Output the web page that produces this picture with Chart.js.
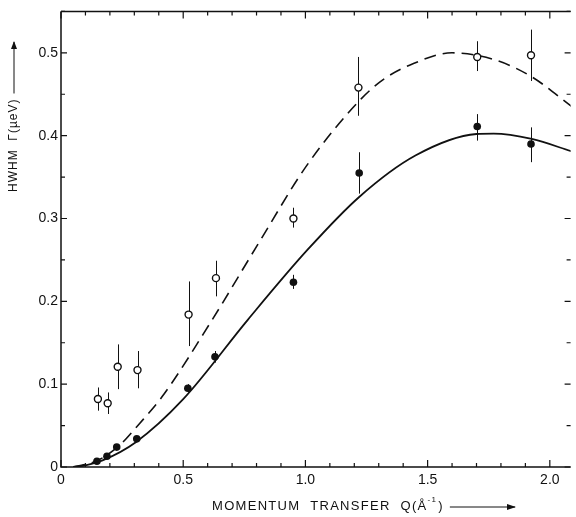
<!DOCTYPE html>
<html lang="en">

<head>
    <meta charset="UTF-8" />
    <title>HWHM vs momentum transfer</title>
    <script src="https://cdn.jsdelivr.net/npm/chart.js"></script>
    <style>
        body { margin: 0; background: #fff; }
    </style>
</head>

<body>
    <canvas id="hwhmChart" width="576" height="517"></canvas>

    <script>
        // open circles (upper data set) with error bars
        const openQ = [0.151, 0.191, 0.232, 0.313, 0.522, 0.634, 0.951, 1.217, 1.703, 1.923];
        const openG = [0.082, 0.077, 0.121, 0.117, 0.184, 0.228, 0.300, 0.458, 0.495, 0.497];
        const openLo = [0.068, 0.064, 0.094, 0.095, 0.146, 0.206, 0.289, 0.424, 0.478, 0.466];
        const openHi = [0.096, 0.090, 0.148, 0.140, 0.224, 0.249, 0.313, 0.495, 0.514, 0.528];

        // filled circles (lower data set)
        const fillQ = [0.147, 0.188, 0.228, 0.310, 0.519, 0.630, 0.951, 1.220, 1.703, 1.923];
        const fillG = [0.007, 0.013, 0.024, 0.034, 0.095, 0.133, 0.223, 0.355, 0.411, 0.390];
        const fillLo = [null, null, null, null, 0.090, 0.126, 0.215, 0.330, 0.394, 0.368];
        const fillHi = [null, null, null, null, 0.100, 0.140, 0.232, 0.380, 0.426, 0.410];

        // model curves
        const solidQ = [0.05, 0.10, 0.17, 0.306, 0.50, 0.765, 1.008, 1.22, 1.45, 1.70, 1.77, 1.926, 2.09];
        const solidG = [0, 0.002, 0.008, 0.030, 0.082, 0.178, 0.262, 0.326, 0.376, 0.402, 0.4025, 0.396, 0.381];
        const dashQ = [0.05, 0.15, 0.239, 0.32, 0.414, 0.617, 0.806, 1.008, 1.23, 1.325, 1.426, 1.60, 1.78, 1.926, 2.09];
        const dashG = [0, 0.008, 0.026, 0.052, 0.085, 0.177, 0.269, 0.365, 0.445, 0.469, 0.485, 0.500, 0.491, 0.471, 0.435];

        const xTickLabels = ['0', '0.5', '1.0', '1.5', '2.0'];
        const yTickLabels = ['0', '0.1', '0.2', '0.3', '0.4', '0.5'];

        const xy = (xs, ys) => xs.map((x, i) => ({ x: x, y: ys[i] }));

        const ink = '#111';
        const fontFam = '"Liberation Sans", Arial, sans-serif';

        const frame = {
            id: 'frame',
            beforeDatasetsDraw(chart) {
                const c = chart.ctx, xs = chart.scales.x, ys = chart.scales.y;
                c.save();
                c.strokeStyle = ink;
                c.lineWidth = 1;
                function bars(qs, lo, hi) {
                    qs.forEach((q, i) => {
                        if (lo[i] == null) return;
                        const px = Math.round(xs.getPixelForValue(q)) + 0.5;
                        c.beginPath();
                        c.moveTo(px, ys.getPixelForValue(lo[i]));
                        c.lineTo(px, ys.getPixelForValue(hi[i]));
                        c.stroke();
                    });
                }
                bars(openQ, openLo, openHi);
                bars(fillQ, fillLo, fillHi);
                c.restore();
            },
            afterDraw(chart) {
                const c = chart.ctx, a = chart.chartArea;
                const xs = chart.scales.x, ys = chart.scales.y;
                c.save();
                c.strokeStyle = ink;
                c.lineWidth = 1.5;
                // frame
                c.beginPath();
                c.moveTo(a.left, a.top);
                c.lineTo(a.right, a.top);
                c.moveTo(a.left, a.top);
                c.lineTo(a.left, a.bottom);
                c.lineTo(a.right, a.bottom);
                c.stroke();

                c.lineWidth = 1.2;
                // x ticks, bottom and top, pointing inward
                for (let i = 0; i <= 20; i++) {
                    const px = xs.getPixelForValue(i * 0.1);
                    const len = i % 5 === 0 ? 7 : 4;
                    c.beginPath();
                    c.moveTo(px, a.bottom);
                    c.lineTo(px, a.bottom - len);
                    c.moveTo(px, a.top);
                    c.lineTo(px, a.top + len);
                    c.stroke();
                }
                // y ticks, left and right
                for (let i = 0; i <= 11; i++) {
                    const py = ys.getPixelForValue(i * 0.05);
                    const len = i % 2 === 0 ? 6 : 4;
                    c.beginPath();
                    c.moveTo(a.left, py);
                    c.lineTo(a.left + len, py);
                    c.moveTo(a.right, py);
                    c.lineTo(a.right - len, py);
                    c.stroke();
                }

                c.fillStyle = ink;
                c.lineWidth = 1;
                // x title
                c.font = '13px ' + fontFam;
                c.letterSpacing = '1.3px';
                c.textBaseline = 'middle';
                c.textAlign = 'left';
                const t1 = 'MOMENTUM  TRANSFER  Q(Å';
                c.fillText(t1, 212, 506);
                let tx = 212 + c.measureText(t1).width;
                c.font = '8px ' + fontFam;
                c.fillText('-1', tx, 500);
                tx += c.measureText('-1').width + 1;
                c.font = '13px ' + fontFam;
                c.fillText(')', tx, 506);
                tx += c.measureText(')').width + 6;
                c.beginPath();
                c.moveTo(tx, 507);
                c.lineTo(515, 507);
                c.stroke();
                c.beginPath();
                c.moveTo(516, 507);
                c.lineTo(507, 504);
                c.lineTo(507, 510);
                c.closePath();
                c.fill();

                // y title, rotated
                c.translate(14, 192);
                c.rotate(-Math.PI / 2);
                c.font = '12px ' + fontFam;
                c.letterSpacing = '1px';
                const t2 = 'HWHM  Γ(µeV)';
                c.fillText(t2, 0, 0);
                const w2 = c.measureText(t2).width;
                c.beginPath();
                c.moveTo(w2 + 5, 0);
                c.lineTo(150, 0);
                c.stroke();
                c.beginPath();
                c.moveTo(151, 0);
                c.lineTo(143, -3);
                c.lineTo(143, 3);
                c.closePath();
                c.fill();
                c.restore();
            }
        };

        const ctx = document.getElementById('hwhmChart').getContext('2d');

        const chart = new Chart(ctx, {
            type: 'scatter',
            data: {
                datasets: [{
                    data: xy(dashQ, dashG),
                    showLine: true,
                    borderColor: ink,
                    borderWidth: 1.6,
                    borderDash: [12, 7],
                    cubicInterpolationMode: 'monotone',
                    pointRadius: 0
                }, {
                    data: xy(solidQ, solidG),
                    showLine: true,
                    borderColor: ink,
                    borderWidth: 1.8,
                    cubicInterpolationMode: 'monotone',
                    pointRadius: 0
                }, {
                    data: xy(openQ, openG),
                    pointRadius: 3.5,
                    pointBackgroundColor: '#fff',
                    pointBorderColor: ink,
                    pointBorderWidth: 1.4
                }, {
                    data: xy(fillQ, fillG),
                    pointRadius: 3.8,
                    pointBackgroundColor: ink,
                    pointBorderColor: ink,
                    pointBorderWidth: 0
                }]
            },
            options: {
                responsive: false,
                animation: false,
                events: [],
                layout: { padding: { top: 6, right: 0, left: 0, bottom: 0 } },
                plugins: {
                    legend: { display: false },
                    tooltip: { enabled: false }
                },
                scales: {
                    x: {
                        type: 'linear',
                        min: 0,
                        max: 2.085,
                        grid: { display: false, drawTicks: false },
                        border: { display: false },
                        afterFit: s => { s.height = 50; },
                        ticks: {
                            stepSize: 0.5,
                            includeBounds: false,
                            maxRotation: 0,
                            padding: 5,
                            color: ink,
                            font: { family: fontFam, size: 14 },
                            callback: (v) => xTickLabels[Math.round(v / 0.5)]
                        }
                    },
                    y: {
                        type: 'linear',
                        min: 0,
                        max: 0.55,
                        grid: { display: false, drawTicks: false },
                        border: { display: false },
                        afterFit: s => { s.width = 61; },
                        ticks: {
                            stepSize: 0.1,
                            includeBounds: false,
                            padding: 3,
                            color: ink,
                            font: { family: fontFam, size: 14 },
                            callback: (v) => yTickLabels[Math.round(v / 0.1)]
                        }
                    }
                }
            },
            plugins: [frame]
        });
    </script>
</body>

</html>
